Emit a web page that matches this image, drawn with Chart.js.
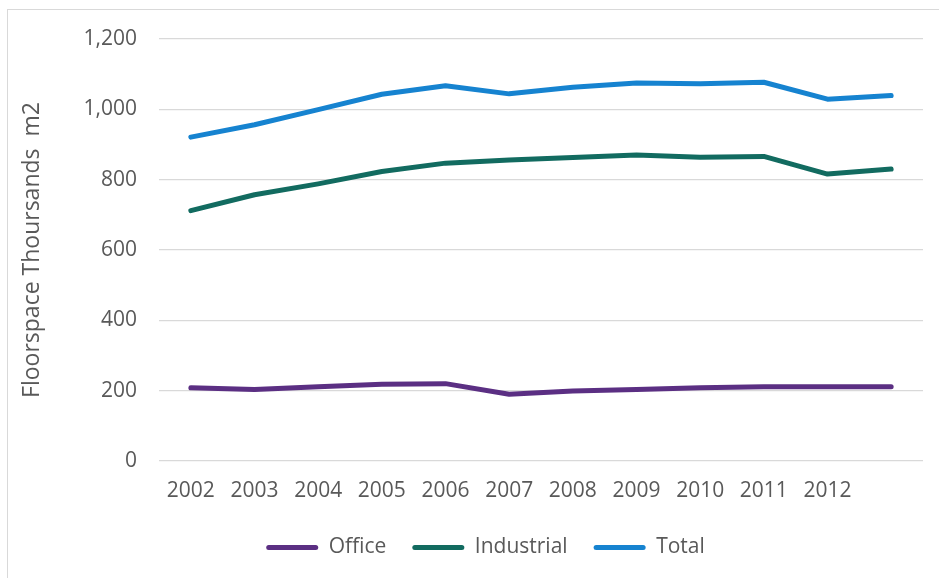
<!DOCTYPE html>
<html>
<head>
<meta charset="utf-8">
<script src="https://cdn.jsdelivr.net/npm/chart.js@4"></script>
<style>
  html, body { margin: 0; padding: 0; background: #fff; }
  #frame { position: absolute; left: 7px; top: 9px; width: 960px; height: 600px; border: 1.5px solid #d9d9d9; }
  #wrap { position: absolute; left: 0; top: 0; width: 939px; height: 578px; }
</style>
</head>
<body>
<div id="frame"></div>
<div id="wrap"><canvas id="floorChart"></canvas></div>
<script>
// years on the category axis (last slot has no label)
const years = ['2002', '2003', '2004', '2005', '2006', '2007', '2008', '2009', '2010', '2011', '2012', ''];

// floorspace, thousands m2
const office = [208, 203, 211, 218, 220, 190, 199, 203, 208, 211, 211, 211];
const industrial = [712, 757, 788, 823, 847, 856, 863, 870, 864, 866, 816, 830];
const total = [921, 956, 999, 1043, 1067, 1044, 1063, 1075, 1073, 1077, 1029, 1039];

const yTicks = [0, 200, 400, 600, 800, 1000, 1200];

const textColor = '#595959';
const gridColor = '#d9d9d9';
const fontFamily = '"Open Sans", sans-serif';

function series(label, data, color) {
    return {
        label: label,
        data: data,
        borderColor: color,
        backgroundColor: color,
        borderWidth: 5,
        borderCapStyle: 'round',
        borderJoinStyle: 'round',
        pointRadius: 0,
        tension: 0,
        fill: false
    };
}

// nudge the legend a bit to the right, under the plot area
const legendShift = {
    id: 'legendShift',
    afterLayout(chart) {
        if (chart.legend) {
            chart.legend.left += 24;
            chart.legend.right += 24;
        }
    }
};

const ctx = document.getElementById('floorChart').getContext('2d');
new Chart(ctx, {
    type: 'line',
    data: {
        labels: years,
        datasets: [
            series('Office', office, '#5b2f83'),
            series('Industrial', industrial, '#126b60'),
            series('Total', total, '#1683d0')
        ]
    },
    plugins: [legendShift],
    options: {
        responsive: true,
        maintainAspectRatio: false,
        animation: false,
        layout: {
            padding: { left: 0, right: 16, top: 39, bottom: 10 }
        },
        plugins: {
            tooltip: { enabled: false },
            legend: {
                position: 'bottom',
                labels: {
                    boxWidth: 52,
                    boxHeight: 5,
                    useBorderRadius: true,
                    borderRadius: 2.5,
                    padding: 26,
                    color: textColor,
                    font: { family: fontFamily, size: 21 },
                    generateLabels(chart) {
                        return chart.data.datasets.map((ds, i) => ({
                            text: ds.label,
                            fillStyle: ds.borderColor,
                            strokeStyle: ds.borderColor,
                            lineWidth: 0,
                            fontColor: textColor,
                            hidden: false,
                            borderRadius: 2.5,
                            datasetIndex: i
                        }));
                    }
                }
            }
        },
        scales: {
            x: {
                offset: true,
                grid: { display: false, drawTicks: false },
                border: { display: false },
                ticks: {
                    color: textColor,
                    font: { family: fontFamily, size: 21 },
                    padding: 17,
                    maxRotation: 0,
                    autoSkip: false
                },
                afterFit(scale) { scale.height = 50; }
            },
            y: {
                min: 0,
                max: 1200,
                afterBuildTicks(scale) {
                    scale.ticks = yTicks.map(v => ({ value: v }));
                },
                grid: { color: gridColor, lineWidth: 1.3, drawTicks: false },
                border: { display: false },
                ticks: {
                    color: textColor,
                    font: { family: fontFamily, size: 21 },
                    padding: 22,
                    callback: v => v.toLocaleString('en-US')
                },
                title: {
                    display: true,
                    text: 'Floorspace Thoursands  m2',
                    color: textColor,
                    font: { family: fontFamily, size: 23 },
                    padding: { top: 19, bottom: 0 }
                },
                afterFit(scale) { scale.width = 159; }
            }
        }
    }
});
</script>
</body>
</html>
